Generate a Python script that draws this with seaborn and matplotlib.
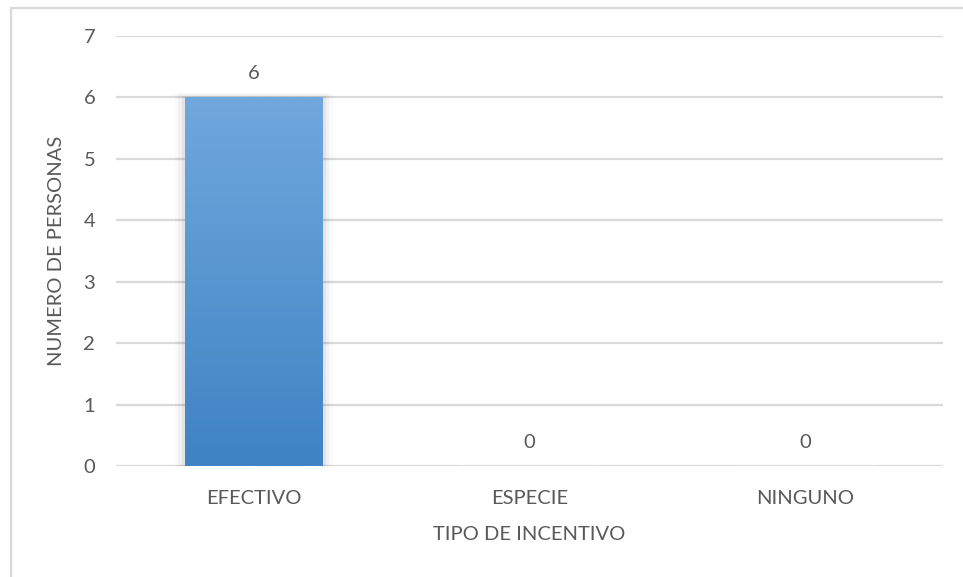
import numpy as np
import pandas as pd
import matplotlib
matplotlib.use("Agg")
import matplotlib.pyplot as plt
import matplotlib.patches as mpatches
import seaborn as sns
from matplotlib.colors import LinearSegmentedColormap

# Data
categorias = ["EFECTIVO", "ESPECIE", "NINGUNO"]
personas = [6, 0, 0]
y_ticks = [0, 1, 2, 3, 4, 5, 6, 7]

sns.set_theme(style="white")
plt.rcParams["font.family"] = ["Lato", "DejaVu Sans"]

TEXT = "#595959"
GRID = "#d9d9d9"
FS = 14.5

df = pd.DataFrame({"tipo": categorias, "n": personas})

fig = plt.figure(figsize=(9.63, 5.77), dpi=100)
ax = fig.add_axes([116 / 963, 1 - 466 / 577, (943 - 116) / 963, (466 - 36) / 577])

sns.barplot(data=df, x="tipo", y="n", ax=ax, width=0.5, color="#5b9bd5",
            saturation=1, zorder=3)

# vertical gradient fill on each bar plus a soft shadow
cmap = LinearSegmentedColormap.from_list("azul", ["#3f83c4", "#70a8dd"])
grad = np.linspace(0, 1, 256).reshape(-1, 1)
for bar in ax.patches:
    x0, y0 = bar.get_x(), bar.get_y()
    w, h = bar.get_width(), bar.get_height()
    if h <= 0:
        continue
    bar.set_facecolor("none")
    bar.set_edgecolor("none")
    for k, a in enumerate([0.05, 0.035, 0.02]):
        s = (k + 1) * 0.012
        sh = mpatches.Rectangle((x0 - s, y0), w + 2 * s, h + s * 2,
                                facecolor="#000000", alpha=a, edgecolor="none", zorder=2)
        ax.add_patch(sh)
    im = ax.imshow(grad, cmap=cmap, aspect="auto", origin="lower",
                   extent=[x0, x0 + w, y0, y0 + h], zorder=3)
    clip = mpatches.Rectangle((x0, y0), w, h, transform=ax.transData)
    im.set_clip_path(clip)

# value labels
for i, v in enumerate(personas):
    ax.annotate(f"{v}", (i, v), xytext=(0, 11), textcoords="offset points",
                ha="center", va="bottom", fontsize=FS, color=TEXT)

ax.set_xlim(-0.5, 2.5)
ax.set_ylim(0, 7)
ax.set_yticks(y_ticks)
ax.yaxis.grid(True, color=GRID, linewidth=1.6, zorder=0)
ax.set_axisbelow(True)
for s in ax.spines.values():
    s.set_visible(False)
ax.tick_params(axis="both", length=0, colors=TEXT, labelsize=FS)
ax.tick_params(axis="y", pad=15)
ax.tick_params(axis="x", pad=17)

ax.set_xlabel("TIPO DE INCENTIVO", fontsize=FS, color=TEXT, labelpad=14)
ax.set_ylabel("NUMERO DE PERSONAS", fontsize=FS, color=TEXT, labelpad=13)

# chart area border
border = mpatches.Rectangle((10.5 / 963, -0.1), 1.2, 1 - 7.5 / 577 + 0.1,
                            transform=fig.transFigure, fill=False,
                            edgecolor=GRID, linewidth=1.6)
fig.patches.append(border)

fig.savefig("out.png", dpi=100)
